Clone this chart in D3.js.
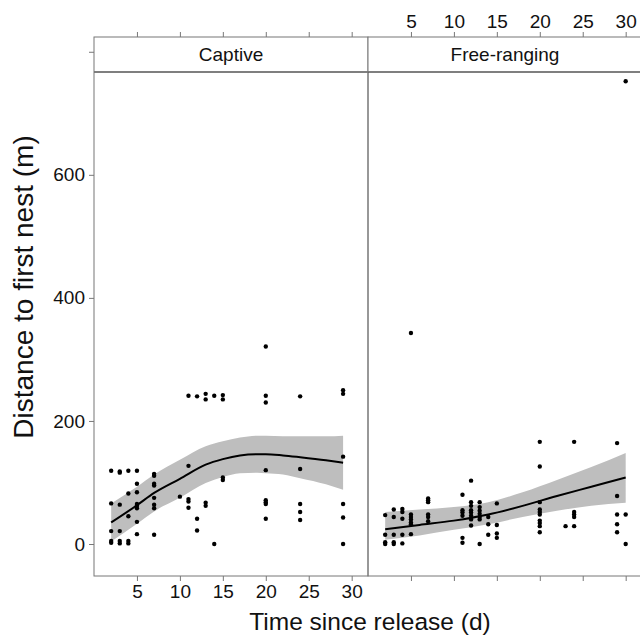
<!DOCTYPE html>
<html>
<head>
<meta charset="utf-8">
<script src="https://cdn.jsdelivr.net/npm/d3@7"></script>
<style>
  body { margin: 0; background: #fff; }
  text { font-family: "Liberation Sans", Arial, Helvetica, sans-serif; fill: #111; }
</style>
</head>
<body>
<div id="chart"></div>
<script>
// Panels
const panels = ["Captive", "Free-ranging"];

// Captive: raw points
const captiveX = [2,2,2,2,2, 3,3,3,3,3,3, 4,4,4,4,4, 5,5,5,5,5,5,5,5,
    7,7,7,7,7,7,7,7, 10, 11,11,11,11,11, 12,12,12, 13,13,13,13, 14,14,
    15,15,15,15, 20,20,20,20,20,20,20,20, 24,24,24,24,24, 29,29,29,29,29,29];
const captiveY = [119,66,21,5,2, 118,116,64,21,5,1, 119,82,45,5,1, 119,98,84,65,62,58,36,16,
    114,111,98,95,75,64,58,15, 77, 241,127,73,69,59, 240,41,22, 244,235,67,62, 241,0,
    242,235,108,104, 321,241,230,120,71,68,65,41, 240,122,65,52,39, 250,244,142,65,43,0];

// Captive: smoother and confidence band
const captiveFitX = [2, 5, 7, 10, 13, 15, 17, 19, 20, 22, 24, 27, 29];
const captiveFit  = [35, 63, 83, 106, 129, 138, 144, 146, 146, 144, 141, 136, 132];
const captiveHi   = [66, 93, 113, 137, 159, 167, 173, 176, 176, 175, 175, 175, 176];
const captiveLo   = [4, 33, 53, 75, 99, 109, 115, 116, 115, 113, 107, 97, 88];

// Free-ranging: raw points
const freeX = [2,2,2,2, 3,3,3,3,3, 4,4,4,4,4, 5,5,5,5,5,5,5,
    7,7,7,7,7,7, 11,11,11,11,11,11, 12,12,12,12,12,12,12,12,
    13,13,13,13,13,13,13, 14,14,14, 15,15,15,15,
    20,20,20,20,20,20,20,20,20,20, 23, 24,24,24,24,24,
    29,29,29,29,29, 30,30,30];
const freeY = [47,15,3,0, 56,44,15,3,0, 57,52,41,15,1, 343,48,44,40,35,32,16,
    74,71,68,48,44,37, 80,55,51,46,10,2, 103,68,62,55,51,46,40,30,
    68,60,54,49,44,40,0, 44,32,15, 66,31,17,10,
    166,126,68,56,52,48,38,34,29,19, 29, 166,52,48,44,29,
    164,78,48,32,19, 752,48,0];

// Free-ranging: smoother and confidence band
const freeFitX = [2, 6, 10, 14, 18, 22, 26, 30];
const freeFit  = [24, 31, 38, 48, 62, 78, 93, 108];
const freeHi   = [52, 56, 60, 68, 84, 104, 125, 148];
const freeLo   = [7, 14, 23, 32, 44, 54, 62, 67];

const xTicks = [5, 10, 15, 20, 25, 30];
const yTicks = [0, 200, 400, 600, 800];
const yTickLabels = ["0", "200", "400", "600", ""];

const W = 640, H = 637;
const plotTop = 37, plotBottom = 576, stripH = 35;
const panelLeft = [94, 368], panelW = 274;

const svg = d3.select("#chart").append("svg")
    .attr("width", W)
    .attr("height", H);

const y = d3.scaleLinear().domain([-52, 824]).range([plotBottom, plotTop]);

const series = [
    { xs: captiveX, ys: captiveY, fx: captiveFitX, f: captiveFit, hi: captiveHi, lo: captiveLo },
    { xs: freeX, ys: freeY, fx: freeFitX, f: freeFit, hi: freeHi, lo: freeLo }
];

function styleAxis(a) {
    a.select(".domain").remove();
    a.selectAll(".tick line").attr("stroke", "#777");
    a.selectAll(".tick text")
        .style("font-size", "19px")
        .style("font-family", "Liberation Sans, Arial, sans-serif")
        .attr("fill", "#111");
}

panels.forEach((name, i) => {
    const x0 = panelLeft[i];
    const x = d3.scaleLinear().domain([0, 31.9]).range([x0, x0 + panelW]);
    const s = series[i];

    const g = svg.append("g");

    // confidence band
    const band = s.fx.map((v, k) => ({ x: v, lo: s.lo[k], hi: s.hi[k] }));
    g.append("path")
        .datum(band)
        .attr("fill", "#bebebe")
        .attr("d", d3.area()
            .curve(d3.curveMonotoneX)
            .x(d => x(d.x))
            .y0(d => y(d.lo))
            .y1(d => y(d.hi)));

    // points
    g.selectAll("circle")
        .data(s.xs.map((v, k) => ({ x: v, y: s.ys[k] })))
        .enter()
        .append("circle")
        .attr("cx", d => x(d.x))
        .attr("cy", d => y(d.y))
        .attr("r", 2.2)
        .attr("fill", "#000");

    // fitted line
    g.append("path")
        .datum(s.fx.map((v, k) => ({ x: v, y: s.f[k] })))
        .attr("fill", "none")
        .attr("stroke", "#000")
        .attr("stroke-width", 2)
        .attr("d", d3.line().curve(d3.curveMonotoneX).x(d => x(d.x)).y(d => y(d.y)));

    // strip
    g.append("rect")
        .attr("x", x0).attr("y", plotTop)
        .attr("width", panelW).attr("height", stripH)
        .attr("fill", "#fff");
    g.append("line")
        .attr("x1", x0).attr("x2", x0 + panelW)
        .attr("y1", plotTop + stripH).attr("y2", plotTop + stripH)
        .attr("stroke", "#000").attr("stroke-width", 1.2);
    g.append("text")
        .attr("x", x0 + panelW / 2)
        .attr("y", plotTop + 24)
        .attr("text-anchor", "middle")
        .style("font-size", "19px")
        .text(name);

    // frame
    g.append("rect")
        .attr("x", x0).attr("y", plotTop)
        .attr("width", panelW).attr("height", plotBottom - plotTop)
        .attr("fill", "none")
        .attr("stroke", "#777").attr("stroke-width", 1);

    // x axes: labels bottom on first panel, top on second; ticks on both
    const axB = d3.axisBottom(x).tickValues(xTicks).tickSize(5).tickPadding(4)
        .tickFormat(i === 0 ? d3.format("d") : "");
    const axT = d3.axisTop(x).tickValues(xTicks).tickSize(5).tickPadding(4)
        .tickFormat(i === 1 ? d3.format("d") : "");

    styleAxis(svg.append("g").attr("transform", `translate(0,${plotBottom})`).call(axB));
    styleAxis(svg.append("g").attr("transform", `translate(0,${plotTop})`).call(axT));
});

// y axis
const yAx = svg.append("g")
    .attr("transform", `translate(${panelLeft[0]},0)`)
    .call(d3.axisLeft(y).tickValues(yTicks).tickSize(5).tickPadding(4)
        .tickFormat((d, k) => yTickLabels[k]));
styleAxis(yAx);

// axis titles
svg.append("text")
    .attr("x", 370)
    .attr("y", 630)
    .attr("text-anchor", "middle")
    .style("font-size", "24.5px")
    .text("Time since release (d)");

svg.append("text")
    .attr("transform", "translate(33,287) rotate(-90)")
    .attr("text-anchor", "middle")
    .style("font-size", "28px")
    .text("Distance to first nest (m)");
</script>
</body>
</html>
